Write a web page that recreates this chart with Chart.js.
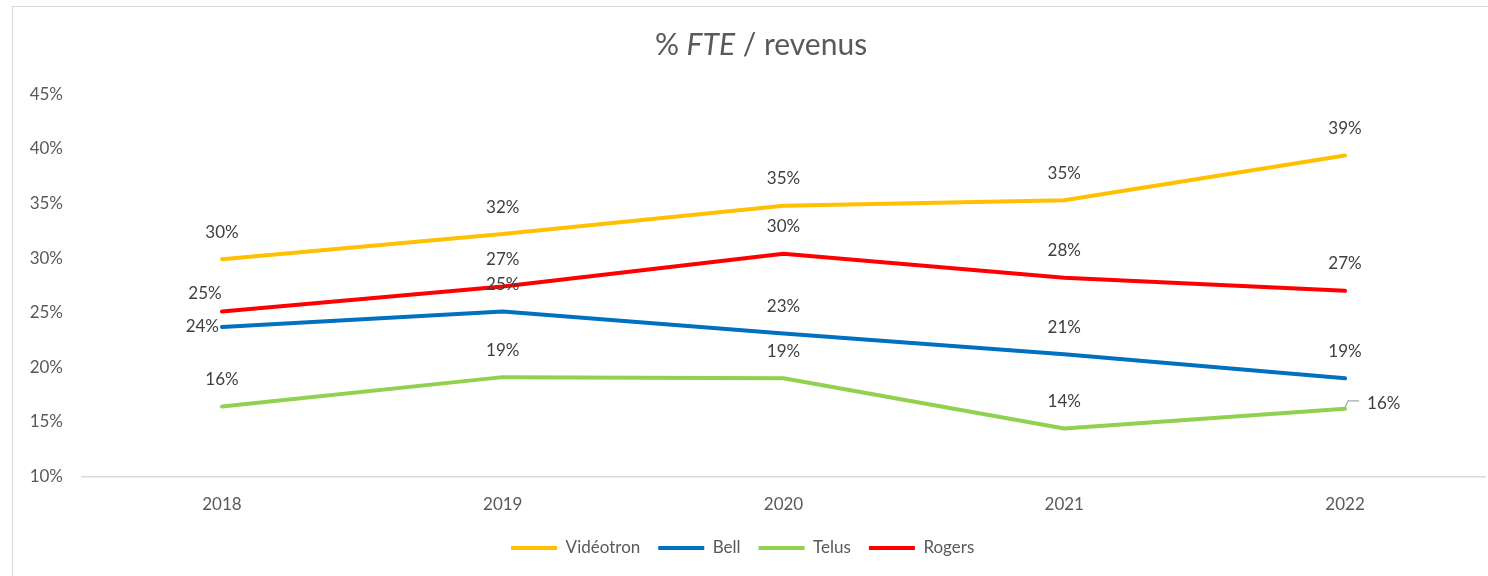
<!DOCTYPE html>
<html>
<head>
<meta charset="utf-8">
<script src="https://cdn.jsdelivr.net/npm/chart.js@4"></script>
<style>
  body { margin: 0; background: #fff; }
  #wrap { position: relative; width: 1488px; height: 576px; overflow: hidden; }
  #frame { position: absolute; left: 12px; top: 6px; width: 1500px; height: 600px; border: 1px solid #d9d9d9; }
  #chart { position: absolute; left: 0; top: 0; }
</style>
</head>
<body>
<div id="wrap">
  <div id="frame"></div>
  <canvas id="chart" width="1488" height="576"></canvas>
</div>
<script>
const annees = ['2018', '2019', '2020', '2021', '2022'];
const videotron = [29.9, 32.2, 34.8, 35.3, 39.4];
const bell = [23.7, 25.1, 23.1, 21.2, 19.0];
const telus = [16.4, 19.1, 19.0, 14.4, 16.2];
const rogers = [25.1, 27.4, 30.4, 28.2, 27.0];
const yTicks = [10, 15, 20, 25, 30, 35, 40, 45];

const police = 'Lato, "Open Sans", sans-serif';

// titre avec FTE en italique
const titrePlugin = {
    id: 'titre',
    afterDraw(chart) {
        const ctx = chart.ctx;
        const parts = [
            { t: '% ', f: '30px ' + police },
            { t: 'FTE', f: 'italic 30px ' + police },
            { t: ' / revenus', f: '30px ' + police }
        ];
        ctx.save();
        let total = 0;
        parts.forEach(p => { ctx.font = p.f; p.w = ctx.measureText(p.t).width; total += p.w; });
        let x = 761 - total / 2;
        ctx.fillStyle = '#595959';
        ctx.textBaseline = 'alphabetic';
        ctx.textAlign = 'left';
        parts.forEach(p => { ctx.font = p.f; ctx.fillText(p.t, x, 55); x += p.w; });
        ctx.restore();
    }
};

// étiquettes de données
const placements = {
    'Rogers-0': { dx: -17, dy: -18.5 },
    'Bell-0': { align: 'right', dx: -3, dy: 0 },
    'Telus-4': { align: 'left', dx: 22, dy: -5.5, leader: true }
};

const etiquettesPlugin = {
    id: 'etiquettes',
    afterDatasetsDraw(chart) {
        const ctx = chart.ctx;
        ctx.save();
        ctx.font = '17px ' + police;
        ctx.fillStyle = '#404040';
        ctx.textBaseline = 'middle';
        chart.data.datasets.forEach((ds, i) => {
            const meta = chart.getDatasetMeta(i);
            meta.data.forEach((pt, j) => {
                const txt = Math.round(ds.data[j]) + '%';
                const p = placements[ds.label + '-' + j];
                if (!p) {
                    ctx.textAlign = 'center';
                    ctx.fillText(txt, pt.x, pt.y - 27);
                    return;
                }
                ctx.textAlign = p.align || 'center';
                if (p.leader) {
                    ctx.save();
                    ctx.strokeStyle = '#a6a6a6';
                    ctx.lineWidth = 1.2;
                    ctx.beginPath();
                    ctx.moveTo(pt.x, pt.y - 1);
                    ctx.lineTo(pt.x + 3, pt.y - 8);
                    ctx.lineTo(pt.x + 14, pt.y - 8);
                    ctx.stroke();
                    ctx.restore();
                }
                ctx.fillText(txt, pt.x + p.dx, pt.y + p.dy);
            });
        });
        ctx.restore();
    }
};

function serie(label, data, couleur) {
    return {
        label: label,
        data: data,
        borderColor: couleur,
        backgroundColor: couleur,
        borderWidth: 4,
        borderCapStyle: 'round',
        borderJoinStyle: 'round',
        pointRadius: 0,
        pointHoverRadius: 0,
        pointStyle: 'line',
        tension: 0
    };
}

const ctx = document.getElementById('chart').getContext('2d');
new Chart(ctx, {
    type: 'line',
    data: {
        labels: annees,
        datasets: [
            serie('Vidéotron', videotron, '#FFC000'),
            serie('Bell', bell, '#0070C0'),
            serie('Telus', telus, '#92D050'),
            serie('Rogers', rogers, '#FF0000')
        ]
    },
    options: {
        responsive: false,
        animation: false,
        layout: { padding: { top: 94.3, left: 0, right: 2.6, bottom: 9.5 } },
        plugins: {
            title: { display: false },
            tooltip: { enabled: false },
            legend: {
                position: 'bottom',
                labels: {
                    usePointStyle: true,
                    pointStyle: 'line',
                    pointStyleWidth: 46,
                    boxHeight: 17,
                    padding: 18,
                    color: '#595959',
                    font: { family: police, size: 17 }
                }
            }
        },
        scales: {
            x: {
                offset: true,
                grid: { display: false, drawTicks: false },
                border: { display: true, color: '#d9d9d9', width: 1.5 },
                ticks: { color: '#595959', font: { family: police, size: 17 }, padding: 18 },
                afterFit(s) { s.height = 45; }
            },
            y: {
                min: 10,
                max: 45,
                grid: { display: false, drawTicks: false },
                border: { display: false },
                afterBuildTicks(s) { s.ticks = yTicks.map(v => ({ value: v })); },
                ticks: {
                    color: '#595959',
                    font: { family: police, size: 17 },
                    padding: 18.6,
                    callback: v => v + '%'
                },
                afterFit(s) { s.width = 81.6; }
            }
        }
    },
    plugins: [titrePlugin, etiquettesPlugin]
});
</script>
</body>
</html>
